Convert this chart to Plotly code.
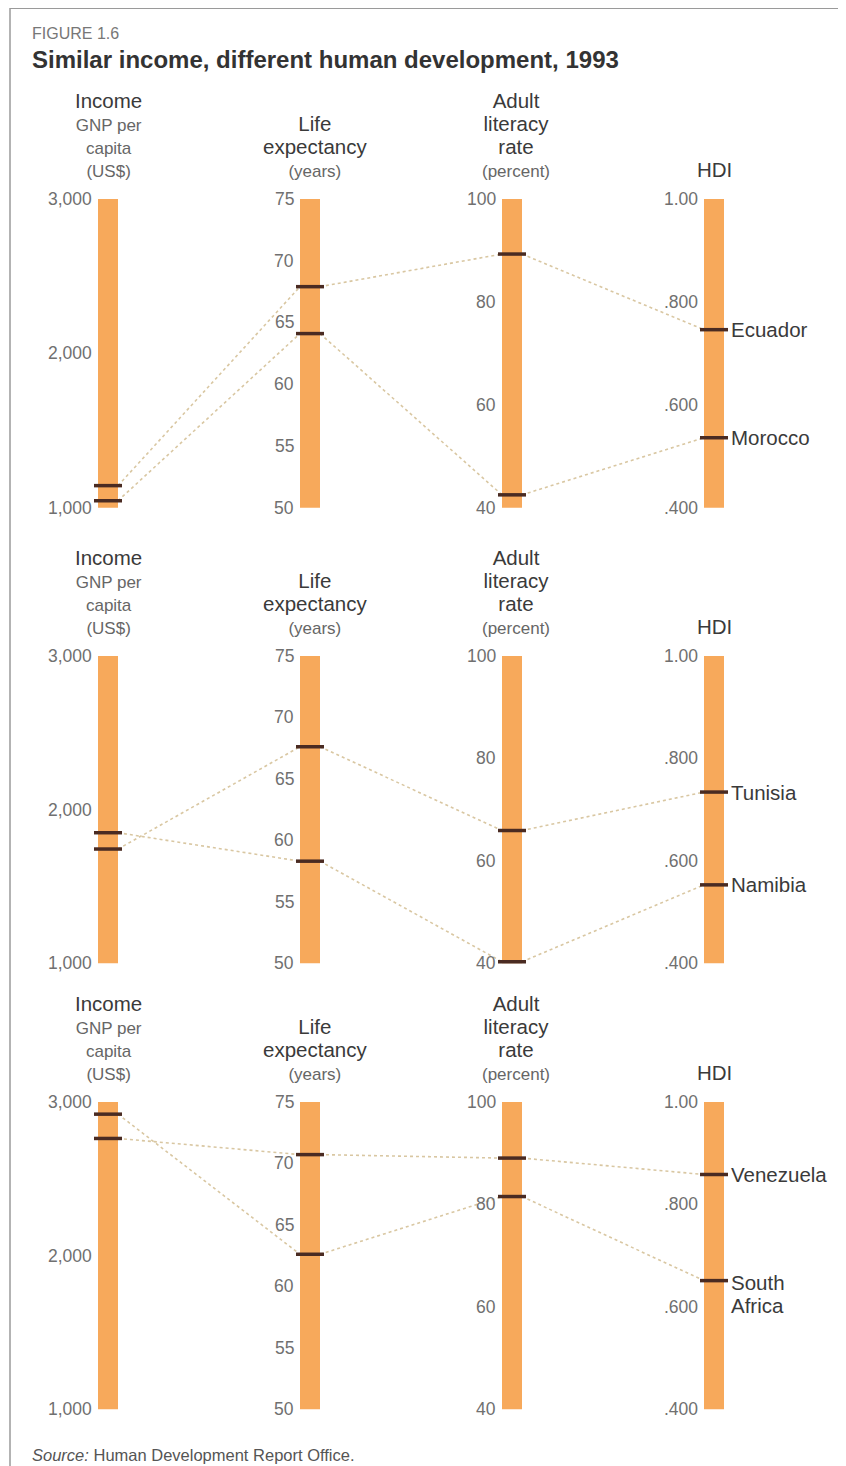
import plotly.graph_objects as go

# ---------------- data ----------------
dimensions = ["Income", "Life expectancy", "Adult literacy rate", "HDI"]
dim_ranges = [(1000, 3000), (50, 75), (40, 100), (0.4, 1.0)]

income_ticks = [1000, 2000, 3000]
income_tick_labels = ["1,000", "2,000", "3,000"]
life_ticks = [50, 55, 60, 65, 70, 75]
life_tick_labels = ["50", "55", "60", "65", "70", "75"]
literacy_ticks = [40, 60, 80, 100]
literacy_tick_labels = ["40", "60", "80", "100"]
hdi_ticks = [0.4, 0.6, 0.8, 1.0]
hdi_tick_labels = [".400", ".600", ".800", "1.00"]

countries_1 = ["Ecuador", "Morocco"]
income_1 = [1143, 1045]
life_1 = [67.9, 64.1]
literacy_1 = [89.3, 42.5]
hdi_1 = [0.746, 0.536]

countries_2 = ["Tunisia", "Namibia"]
income_2 = [1743, 1849]
life_2 = [67.6, 58.3]
literacy_2 = [65.9, 40.3]
hdi_2 = [0.734, 0.553]

countries_3 = ["Venezuela", "South<br>Africa"]
income_3 = [2761, 2919]
life_3 = [70.7, 62.6]
literacy_3 = [89.0, 81.5]
hdi_3 = [0.858, 0.651]

# column headers: (main lines, sub line(s))
header_main = [["Income"], ["Life", "expectancy"], ["Adult", "literacy", "rate"], ["HDI"]]
header_sub = [["GNP per", "capita", "(US$)"], ["(years)"], ["(percent)"], []]

# ---------------- style / layout ----------------
OFF = 8  # page body margin in the browser
PAGE_W, PAGE_H = 846, 1466
W, H = PAGE_W - OFF, PAGE_H - OFF
FONT = "Liberation Sans"
BAR_COLOR = "#F7A95B"
MARK_COLOR = "#4A2B22"
LINE_COLOR = "#D9C7A2"
TICK_COLOR = "#707070"
HEAD_COLOR = "#3a3a3a"
SUB_COLOR = "#666666"

PX_PER_UNIT = 202.0
X0_PX = 108.0 - OFF
BAR_W = 20.0 / PX_PER_UNIT
HW = BAR_W / 2
x_range = [(0 - X0_PX) / PX_PER_UNIT, (W - X0_PX) / PX_PER_UNIT]

panel_tops = [199.0, 655.7, 1101.7]
panel_bottoms = [507.7, 963.3, 1409.3]
header_cx = [108, 315, 516, 714]

ticks = [
    (income_ticks, income_tick_labels),
    (life_ticks, life_tick_labels),
    (literacy_ticks, literacy_tick_labels),
    (hdi_ticks, hdi_tick_labels),
]
panels = [
    (countries_1, [income_1, life_1, literacy_1, hdi_1]),
    (countries_2, [income_2, life_2, literacy_2, hdi_2]),
    (countries_3, [income_3, life_3, literacy_3, hdi_3]),
]


def norm(v, d):
    lo, hi = dim_ranges[d]
    return (v - lo) / (hi - lo)


def py(px):
    # page pixel y -> paper fraction
    return 1 - (px - OFF) / H


def pxx(px):
    # page pixel x -> paper fraction
    return (px - OFF) / W


def span(t, size, color):
    return '<span style="font-size:%gpx;color:%s">%s</span>' % (size, color, t)


fig = go.Figure()
annotations = []
HF, SF, BASE = 20.5, 17, 17.8  # BASE sets the line spacing (1.3 x BASE)

for p, (countries, series) in enumerate(panels):
    k = "" if p == 0 else str(p + 1)
    xa, ya = "x" + k, "y" + k
    # bars
    fig.add_trace(go.Bar(
        x=list(range(len(dimensions))), y=[1] * len(dimensions), base=0,
        width=BAR_W, marker=dict(color=BAR_COLOR, line=dict(width=0)),
        xaxis=xa, yaxis=ya, showlegend=False, hoverinfo="skip",
    ))
    # connecting dotted lines (between bar edges)
    for c in range(len(countries)):
        xs, ys = [], []
        for d in range(len(dimensions) - 1):
            xs += [d + HW, d + 1 - HW, None]
            ys += [norm(series[d][c], d), norm(series[d + 1][c], d + 1), None]
        fig.add_trace(go.Scatter(
            x=xs, y=ys, mode="lines",
            line=dict(color=LINE_COLOR, width=1.6, dash="dot"),
            xaxis=xa, yaxis=ya, showlegend=False, hoverinfo="skip",
        ))
    # value markers
    for c in range(len(countries)):
        fig.add_trace(go.Scatter(
            x=list(range(len(dimensions))),
            y=[norm(series[d][c], d) for d in range(len(dimensions))],
            mode="markers",
            marker=dict(symbol="line-ew", size=20,
                        line=dict(color=MARK_COLOR, width=3.5)),
            cliponaxis=False, xaxis=xa, yaxis=ya, showlegend=False,
            hoverinfo="skip",
        ))
    # tick labels
    for d, (tv, tl) in enumerate(ticks):
        for v, lab in zip(tv, tl):
            annotations.append(dict(
                x=d - HW, y=norm(v, d), xref=xa, yref=ya, text=lab,
                showarrow=False, xanchor="right", yanchor="middle", xshift=-4,
                font=dict(family=FONT, size=17.5, color=TICK_COLOR),
            ))
    # country labels (first line centred on the HDI marker)
    last = len(dimensions) - 1
    for c, name in enumerate(countries):
        lines = name.split("<br>")
        if len(lines) == 1:
            annotations.append(dict(
                x=last + HW, y=norm(series[last][c], last), xref=xa, yref=ya,
                text=name, showarrow=False, xanchor="left", yanchor="middle",
                xshift=5, font=dict(family=FONT, size=20.5, color=HEAD_COLOR),
            ))
        else:
            annotations.append(dict(
                x=last + HW, y=norm(series[last][c], last), xref=xa, yref=ya,
                text="<br>".join(span(t, 20.5, HEAD_COLOR) for t in lines),
                showarrow=False, xanchor="left", yanchor="top", align="left",
                xshift=5, yshift=12,
                font=dict(family=FONT, size=BASE, color=HEAD_COLOR),
            ))
    # column headers: one text block per column, bottom line ends above bar top
    top = panel_tops[p]
    for d in range(len(dimensions)):
        parts = [span(t, HF, HEAD_COLOR) for t in header_main[d]]
        parts += [span(t, SF, SUB_COLOR) for t in header_sub[d]]
        annotations.append(dict(
            x=pxx(header_cx[d]), y=py(top - 16), xref="paper", yref="paper",
            text="<br>".join(parts), showarrow=False, xanchor="center",
            yanchor="bottom", align="center",
            font=dict(family=FONT, size=BASE, color=HEAD_COLOR),
        ))
    # axes
    fig.update_layout(**{
        "xaxis" + k: dict(domain=[0, 1], range=x_range, visible=False,
                          fixedrange=True, anchor=ya),
        "yaxis" + k: dict(domain=[py(panel_bottoms[p]), py(top)], range=[0, 1],
                          visible=False, fixedrange=True, anchor=xa),
    })

# titles and source
annotations += [
    dict(x=pxx(30), y=py(33), xref="paper", yref="paper", text="FIGURE 1.6",
         showarrow=False, xanchor="left", yanchor="middle",
         font=dict(family=FONT, size=16, color="#777777")),
    dict(x=pxx(30), y=py(60), xref="paper", yref="paper",
         text="<b>Similar income, different human development, 1993</b>",
         showarrow=False, xanchor="left", yanchor="middle",
         font=dict(family=FONT, size=24, color="#333333")),
    dict(x=pxx(30), y=py(1455), xref="paper", yref="paper",
         text="<i>Source:</i> Human Development Report Office.",
         showarrow=False, xanchor="left", yanchor="middle",
         font=dict(family=FONT, size=16.5, color="#555555")),
]

shapes = [
    dict(type="line", xref="paper", yref="paper", x0=pxx(10), x1=1.0,
         y0=1.0, y1=1.0, line=dict(color="#9a9a9a", width=2)),
    dict(type="line", xref="paper", yref="paper", x0=pxx(10), x1=pxx(10),
         y0=1.0, y1=0, line=dict(color="#9a9a9a", width=1.5)),
]

fig.update_layout(
    width=W, height=H, margin=dict(l=0, r=0, t=0, b=0),
    paper_bgcolor="white", plot_bgcolor="rgba(0,0,0,0)",
    annotations=annotations, shapes=shapes, showlegend=False,
    bargap=0,
)

fig.write_html("out.html")
